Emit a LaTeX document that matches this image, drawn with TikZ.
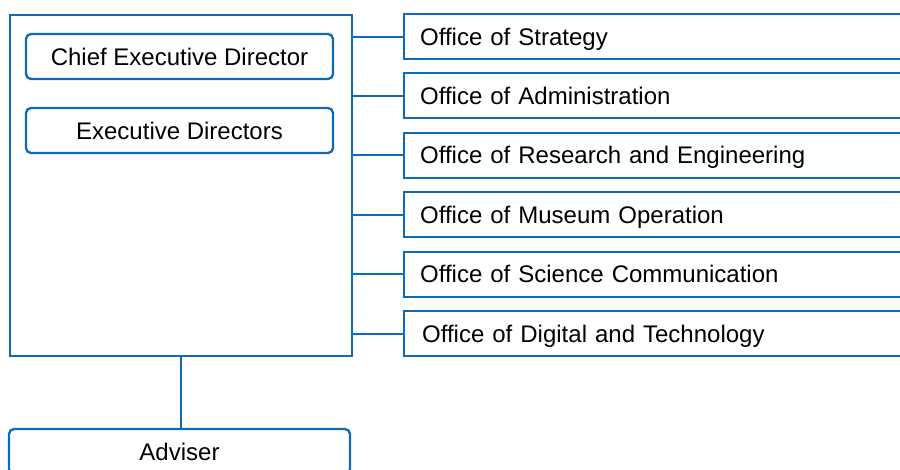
\documentclass[tikz,border=0pt]{standalone}
\usepackage{fontspec}
\setmainfont{Liberation Sans}
\definecolor{orgblue}{RGB}{12,106,185}
\begin{document}
\begin{tikzpicture}[x=1pt,y=-1pt,
  every node/.style={font=\fontsize{24}{28}\selectfont, text=black, text height=17.2pt, text depth=0pt},
  frame/.style={draw=orgblue, line width=2.3pt},
  rbox/.style={frame, rounded corners=5pt, minimum width=307pt, minimum height=45pt, inner sep=0pt},
  office/.style={frame, minimum height=45pt, text width=500pt, inner xsep=16pt, inner ysep=0pt, align=left, anchor=north west},
  link/.style={draw=orgblue, line width=2.3pt}]
\useasboundingbox (0,0) rectangle (900,469);
\clip (0,0) rectangle (900,469);
\node[frame, minimum width=342pt, minimum height=341pt, inner sep=0pt, anchor=north west] (main) at (8.5,14) {};
\node[rbox] (ced) at (179.5,56.5) {Chief Executive Director};
\node[rbox] (ed) at (179.5,130.5) {Executive Directors};
\node[office] (o1) at (403,13) {Office of Strategy};
\node[office] (o2) at (403,72) {Office of Administration};
\node[office] (o3) at (403,131.5) {Office of Research and Engineering};
\node[office] (o4) at (403,191) {Office of Museum Operation};
\node[office] (o5) at (403,250.5) {Office of Science Communication};
\node[office, inner xsep=18pt, text width=498pt] (o6) at (403,310) {Office of Digital and Technology};
\node[frame, rounded corners=5pt, minimum width=341pt, minimum height=45pt, inner sep=0pt] (adv) at (179.5,451.5) {Adviser};
\foreach \o in {o1,o2,o3,o4,o5,o6}{
  \draw[link] (main.east |- \o.west) -- (\o.west);
}
\draw[link] (main.south) -- (main.south |- adv.north);
\end{tikzpicture}
\end{document}
